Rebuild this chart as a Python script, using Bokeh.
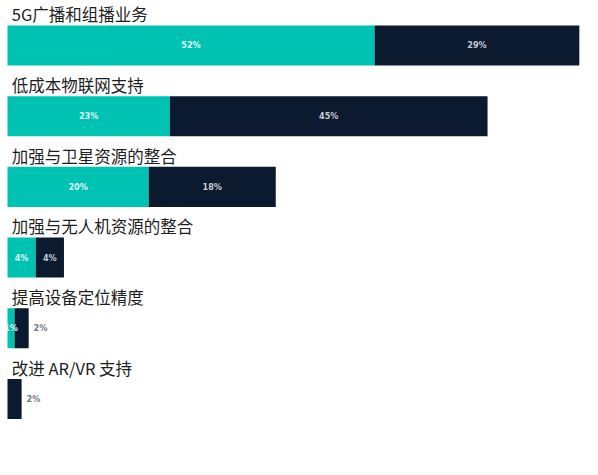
from bokeh.plotting import figure
from bokeh.models import ColumnDataSource, Range1d
from bokeh.core.properties import value
from bokeh.embed import file_html
from bokeh.resources import INLINE

categories = ["5G广播和组播业务", "低成本物联网支持", "加强与卫星资源的整合",
              "加强与无人机资源的整合", "提高设备定位精度", "改进 AR/VR 支持"]
teal_vals = [52, 23, 20, 4, 1, 0]
dark_vals = [29, 45, 18, 4, 2, 2]

TEAL = "#00c2b2"
DARK = "#0b1a2e"

n = len(categories)
idx = list(range(n))

p = figure(width=582, height=459, output_backend="svg", toolbar_location=None,
           x_range=Range1d(-0.99, 81.45), y_range=Range1d(5.856, -0.636),
           min_border=0, min_border_left=0, min_border_right=0,
           min_border_top=0, min_border_bottom=0)
p.axis.visible = False
p.grid.visible = False
p.outline_line_color = None
p.background_fill_color = "white"
p.border_fill_color = "white"

bar_h = 0.566
src_t = ColumnDataSource(dict(y=idx, left=[0] * n, right=teal_vals))
src_d = ColumnDataSource(dict(y=idx, left=teal_vals,
                              right=[t + d for t, d in zip(teal_vals, dark_vals)]))
p.hbar(y="y", left="left", right="right", height=bar_h, source=src_t,
       fill_color=TEAL, line_color=None)
p.hbar(y="y", left="left", right="right", height=bar_h, source=src_d,
       fill_color=DARK, line_color=None)

# category titles
p.text(x=[0.6] * n, y=[i - 0.44 for i in idx], text=categories,
       text_font=value("Noto Sans CJK SC"), text_font_size="16.5px",
       text_color="#1e1e1e", text_baseline="middle", text_align="left")

# value labels
tx, ty, tt = [], [], []
for i, t in enumerate(teal_vals):
    if t > 0:
        tx.append(t / 2); ty.append(i); tt.append(f"{t}%")
p.text(x=tx, y=ty, text=tt, text_font=value("DejaVu Sans Condensed"),
       text_font_style="bold", text_font_size="9px", text_color="#dff6f3",
       text_align="center", text_baseline="middle")

dx, dy, dt = [], [], []
ox, oy, ot = [], [], []
for i, (t, d) in enumerate(zip(teal_vals, dark_vals)):
    if d >= 3:
        dx.append(t + d / 2); dy.append(i); dt.append(f"{d}%")
    else:
        ox.append(t + d + 0.7); oy.append(i); ot.append(f"{d}%")
p.text(x=dx, y=dy, text=dt, text_font=value("DejaVu Sans Condensed"),
       text_font_style="bold", text_font_size="9px", text_color="#c5ccd6",
       text_align="center", text_baseline="middle")
p.text(x=ox, y=oy, text=ot, text_font=value("DejaVu Sans Condensed"),
       text_font_style="bold", text_font_size="9px", text_color="#6f7885",
       text_align="left", text_baseline="middle")

open("out.html", "w").write(file_html(p, INLINE))
